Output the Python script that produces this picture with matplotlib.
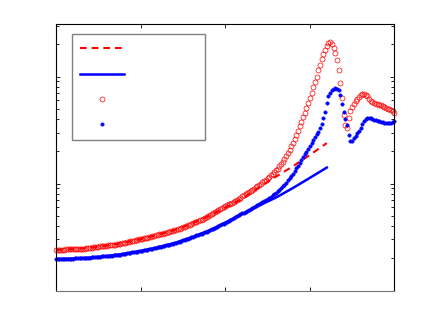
import numpy as np
import matplotlib
matplotlib.use("Agg")
import matplotlib.pyplot as plt

# measured points, sampled every 0.02 on x
x_meas = np.linspace(0, 4, 201)
red_meas = [
    2.39, 2.39, 2.40, 2.40, 2.41, 2.41, 2.42, 2.42, 2.43, 2.43,
    2.44, 2.44, 2.45, 2.45, 2.45, 2.46, 2.46, 2.47, 2.48, 2.49,
    2.50, 2.52, 2.53, 2.54, 2.55, 2.56, 2.58, 2.59, 2.60, 2.61,
    2.63, 2.64, 2.65, 2.66, 2.68, 2.69, 2.70, 2.72, 2.74, 2.77,
    2.79, 2.81, 2.83, 2.86, 2.88, 2.90, 2.93, 2.95, 2.97, 3.00,
    3.02, 3.05, 3.07, 3.10, 3.12, 3.15, 3.18, 3.21, 3.24, 3.27,
    3.31, 3.34, 3.37, 3.41, 3.44, 3.48, 3.51, 3.55, 3.58, 3.62,
    3.66, 3.69, 3.74, 3.79, 3.85, 3.90, 3.96, 4.02, 4.08, 4.14,
    4.20, 4.26, 4.33, 4.39, 4.46, 4.52, 4.59, 4.66, 4.75, 4.86,
    4.96, 5.06, 5.17, 5.28, 5.39, 5.50, 5.62, 5.74, 5.86, 5.98,
    6.11, 6.24, 6.37, 6.50, 6.64, 6.78, 6.92, 7.07, 7.23, 7.40,
    7.58, 7.75, 7.94, 8.12, 8.32, 8.52, 8.74, 8.97, 9.21, 9.46,
    9.71, 9.97, 10.3, 10.6, 10.9, 11.2, 11.6, 12.0, 12.4, 12.8,
    13.3, 13.8, 14.5, 15.1, 15.9, 16.9, 17.9, 19.1, 20.6, 22.2,
    24.0, 26.1, 28.4, 31.0, 34.2, 37.7, 41.5, 45.8, 50.5, 56.2,
    63.0, 70.7, 79.4, 89.2, 100, 114, 129, 145, 162, 178,
    193, 208, 210, 201, 185, 166, 143, 115, 86.9, 63.0,
    43.7, 35.2, 33.4, 40.9, 47.6, 52.5, 56.0, 59.0, 62.3, 65.0,
    67.2, 68.6, 69.4, 67.9, 65.8, 62.3, 59.7, 57.8, 56.5, 55.6,
    55.0, 54.4, 53.8, 53.2, 52.5, 51.3, 50.2, 49.3, 48.8, 48.1,
    45.6,
]
blue_meas = [
    1.97, 1.97, 1.97, 1.98, 1.98, 1.98, 1.98, 1.99, 1.99, 1.99,
    1.99, 2.00, 2.00, 2.00, 2.00, 2.01, 2.01, 2.01, 2.02, 2.02,
    2.03, 2.04, 2.05, 2.05, 2.06, 2.07, 2.07, 2.08, 2.09, 2.10,
    2.10, 2.11, 2.12, 2.12, 2.13, 2.14, 2.15, 2.16, 2.17, 2.19,
    2.20, 2.21, 2.23, 2.24, 2.26, 2.27, 2.29, 2.30, 2.31, 2.33,
    2.34, 2.36, 2.37, 2.39, 2.40, 2.42, 2.44, 2.46, 2.48, 2.50,
    2.53, 2.55, 2.57, 2.60, 2.62, 2.65, 2.67, 2.69, 2.72, 2.74,
    2.77, 2.79, 2.82, 2.86, 2.90, 2.94, 2.98, 3.02, 3.06, 3.10,
    3.14, 3.18, 3.23, 3.27, 3.31, 3.36, 3.40, 3.45, 3.50, 3.56,
    3.61, 3.67, 3.73, 3.79, 3.85, 3.91, 3.98, 4.06, 4.15, 4.23,
    4.31, 4.40, 4.49, 4.58, 4.67, 4.76, 4.86, 4.95, 5.05, 5.15,
    5.26, 5.36, 5.47, 5.58, 5.69, 5.80, 5.93, 6.05, 6.18, 6.32,
    6.45, 6.59, 6.73, 6.88, 7.02, 7.17, 7.36, 7.55, 7.74, 7.94,
    8.14, 8.45, 8.76, 9.09, 9.43, 9.79, 10.2, 10.7, 11.2, 11.8,
    12.3, 13.1, 13.9, 14.7, 15.7, 16.6, 17.6, 18.7, 19.9, 21.1,
    22.4, 23.9, 25.4, 27.0, 28.8, 30.5, 33.0, 36.0, 40.9, 46.6,
    56.5, 65.8, 70.8, 74.8, 76.7, 77.6, 76.9, 74.8, 67.2, 55.3,
    46.9, 40.1, 35.2, 28.4, 24.9, 25.2, 26.4, 27.8, 29.5, 31.3,
    33.4, 36.0, 38.4, 40.5, 41.4, 41.4, 40.7, 40.1, 39.6, 39.2,
    38.8, 38.4, 38.0, 37.6, 37.2, 36.7, 36.5, 36.5, 36.7, 37.6,
    38.6,
]

# model curves
x_fit = [0.0, 0.2, 0.4, 0.6, 0.8, 1.0, 1.2, 1.4, 1.6, 1.8, 2.0, 2.2, 2.4, 2.6, 2.8, 3.0, 3.2]
red_fit = [2.39, 2.44, 2.50, 2.63, 2.79, 3.02, 3.31, 3.66, 4.20, 4.96, 5.95, 7.2, 9.18, 11.6, 14.5, 18.5, 23.9]
blue_fit = [1.97, 1.99, 2.03, 2.10, 2.20, 2.34, 2.53, 2.77, 3.14, 3.61, 4.31, 5.20, 6.23, 7.40, 9.08, 11.3, 14.1]

RED = '#ff0000'
BLUE = '#0000ff'

fig = plt.figure(figsize=(4.36, 3.28), dpi=100)
ax = fig.add_axes([0.1284, 0.1143, 0.7764, 0.8125])

l1, = ax.plot(x_fit, red_fit, color=RED, lw=1.5, dashes=[3.2, 2.4])
l2, = ax.plot(x_fit, blue_fit, color=BLUE, lw=1.8)
l3, = ax.plot(x_meas, red_meas, ls='none', marker='o', ms=3.6, mfc='none',
              mec=RED, mew=0.5, clip_on=False)
l4, = ax.plot(x_meas, blue_meas, ls='none', marker='o', ms=2.5, mfc=BLUE,
              mec=BLUE, mew=0.3, clip_on=False)

ax.set_yscale('log')
ax.set_xlim(0, 4)
ax.set_ylim(1, 310)
ax.set_xticks([0, 1, 2, 3, 4])
ax.tick_params(which='both', direction='in', top=True, right=True,
               labelbottom=False, labelleft=False, labeltop=False, labelright=False,
               color='black', width=0.6)
ax.tick_params(which='major', length=3)
ax.tick_params(which='minor', length=2)
for s in ax.spines.values():
    s.set_linewidth(0.8)
    s.set_color('black')
ax.spines['bottom'].set_color('0.45')

leg = ax.legend([l1, l2, l3, l4], ['', '', '', ''],
                loc='upper left', bbox_to_anchor=(0.048, 0.579, 0.391, 0.382),
                mode='expand', borderaxespad=0, fontsize=10,
                handlelength=3.2, labelspacing=0.82, borderpad=0.55,
                fancybox=False, framealpha=1)
leg.get_frame().set_edgecolor('0.5')
leg.get_frame().set_linewidth(1.0)

fig.savefig('out.png', dpi=100)
